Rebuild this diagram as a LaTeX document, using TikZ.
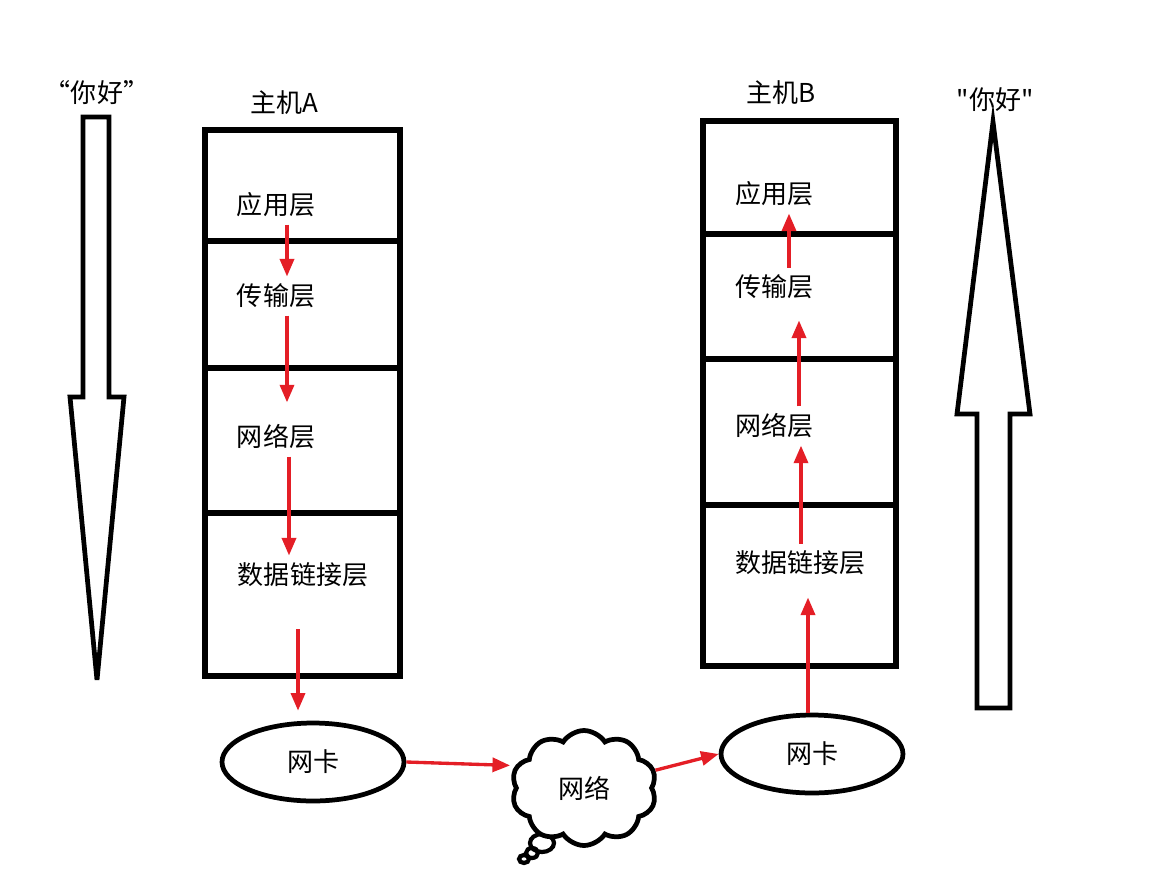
\documentclass[tikz,border=0pt]{standalone}
\usepackage{fontspec}
\setmainfont{Noto Sans CJK SC}[Ligatures=TeXReset]
\usetikzlibrary{arrows.meta,shapes.geometric,shapes.symbols}
\definecolor{dred}{RGB}{228,30,38}
\tikzset{
  stack/.style={line width=3.3pt},
  flow/.style={dred,line width=1.9pt,-{Triangle[length=10pt,width=8pt]}},
  hollow/.style={line width=2.7pt,line join=miter},
  nic/.style={draw,ellipse,line width=2.7pt,minimum width=3.64cm,minimum height=1.56cm},
  layer/.style={inner sep=4pt},
}
\begin{document}
\begin{tikzpicture}[x=0.02cm,y=-0.02cm,every node/.style={font=\fontsize{14.8}{17}\selectfont}]
\useasboundingbox (0,0) rectangle (1176,879);
\draw[hollow] (83,117) -- (109,117) -- (109,397) -- (124,397) -- (97,680) -- (70,397) -- (83,397) -- cycle;
\node (helloA) at (97,93) {“你好”};
\draw[hollow] (977,708) -- (1010,708) -- (1010,414) -- (1030,414) -- (993,122) -- (957,414) -- (977,414) -- cycle;
\node (helloB) at (995,100) {"你好"};
\draw[stack] (205,130) rectangle (400,676);
\draw[stack] (205,241) -- (400,241);
\draw[stack] (205,368) -- (400,368);
\draw[stack] (205,513) -- (400,513);
\node (hostA) at (284,103) {主机A};
\node[layer] (appA) at (276,205) {应用层};
\node[layer] (transA) at (276,296) {传输层};
\node[layer] (netA) at (276,437) {网络层};
\node[layer] (dataA) at (303,575) {数据链接层};
\draw[stack] (703,121) rectangle (896,666);
\draw[stack] (703,234) -- (896,234);
\draw[stack] (703,359) -- (896,359);
\draw[stack] (703,505) -- (896,505);
\node (hostB) at (781,93) {主机B};
\node[layer] (appB) at (774,194) {应用层};
\node[layer] (transB) at (774,287) {传输层};
\node[layer] (netB) at (774,426) {网络层};
\node[layer] (dataB) at (800,563) {数据链接层};
\node[nic] (nicA) at (313,762) {网卡};
\node[nic] (nicB) at (812,754) {网卡};
\draw[line width=2.4pt] (542,843) ellipse [x radius=0.24cm,y radius=0.18cm];
\draw[line width=2.4pt] (532,853) ellipse [x radius=0.12cm,y radius=0.1cm];
\draw[line width=2.4pt] (524,859) ellipse [x radius=0.1cm,y radius=0.08cm];
\node[cloud,draw,fill=white,line width=2.7pt,cloud puffs=10,cloud puff arc=115,aspect=1.25,minimum width=2.9cm,minimum height=2.3cm,inner sep=0pt] (net) at (584,788) {网络};
\draw[flow] ([xshift=0.22cm]appA.south) -- ([xshift=0.22cm]transA.north);
\draw[flow,shorten >=0.3cm] ([xshift=0.22cm]transA.south) -- ([xshift=0.22cm]netA.north);
\draw[flow] ([xshift=0.26cm]netA.south) -- ([xshift=0.26cm]netA.south |- dataA.north);
\draw[flow,shorten <=0.7cm,shorten >=0.2cm] ([xshift=-0.1cm]dataA.south) -- ([xshift=-0.1cm]dataA.south |- nicA.north);
\draw[flow,shorten >=0.1cm] (nicA.east) -- (net.162);
\draw[flow] (net.14) -- (nicB.west);
\draw[flow,shorten >=0.3cm] ([xshift=-0.08cm]nicB.north) -- ([xshift=-0.08cm]nicB.north |- dataB.south);
\draw[flow] ([xshift=0.02cm]dataB.north) -- ([xshift=0.02cm]dataB.north |- netB.south);
\draw[flow,shorten >=0.28cm] ([xshift=0.5cm]netB.north) -- ([xshift=0.5cm]transB.south);
\draw[flow] ([xshift=0.3cm]transB.north) -- ([xshift=0.3cm]appB.south);
\end{tikzpicture}
\end{document}
